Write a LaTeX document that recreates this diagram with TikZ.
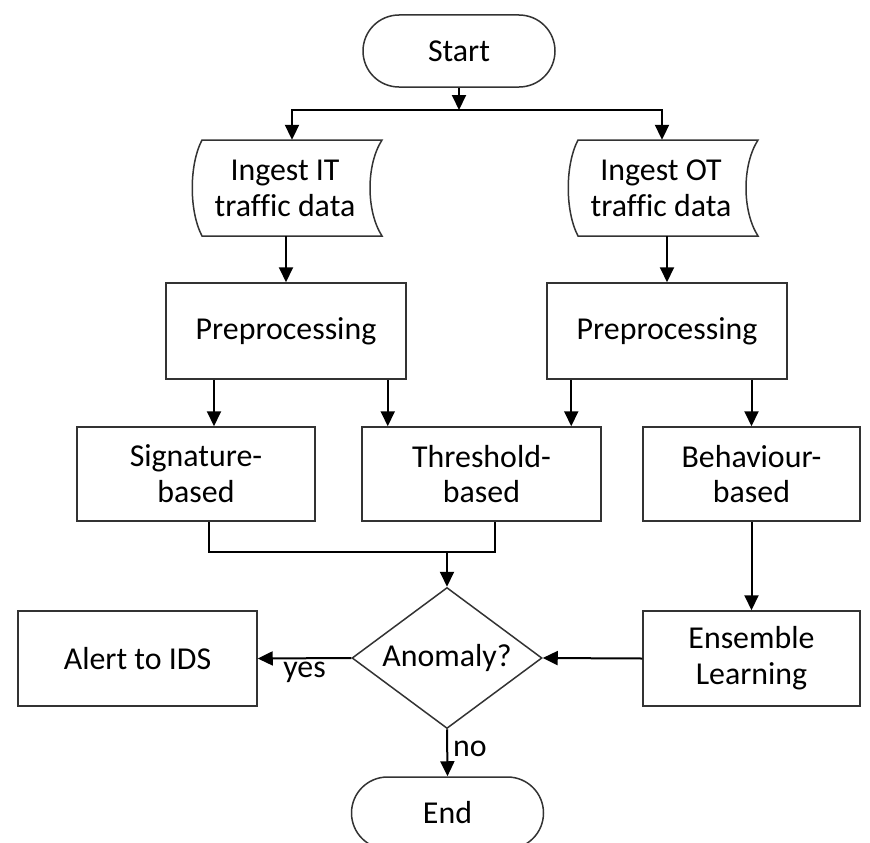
\documentclass[tikz,border=0pt]{standalone}
\usepackage{fontspec}
\setmainfont[Ligatures=NoCommon]{Carlito}
\usetikzlibrary{shapes.geometric,arrows.meta,calc}
\begin{document}
\begin{tikzpicture}[x=1bp,y=-1bp,
  txt/.style={font=\fontsize{32}{36}\selectfont, align=center, inner sep=0pt},
  box/.style={txt, draw=black!80, line width=1.5bp, rectangle},
  term/.style={box, rounded corners=36bp, minimum width=192bp, minimum height=72bp},
  proc/.style={box, minimum width=239bp, minimum height=95bp},
  side/.style={box, minimum width=217bp, minimum height=95bp},
  datanode/.style={txt, minimum width=180bp, minimum height=96bp},
  border/.style={draw=black!80, line width=1.5bp},
  decision/.style={txt, draw=black!80, line width=1.5bp, shape=diamond, aspect=1.35,
    minimum width=190bp, minimum height=141bp},
  link/.style={line width=2bp},
  flow/.style={link, -{Triangle[length=15bp,width=14bp]}},
  lbl/.style={font=\fontsize{32}{36}\selectfont, inner sep=0pt}
]
\useasboundingbox (0,0) rectangle (870,843);

% terminals
\node[term] (start) at (459,51) {Start};
\node[term] (end) at (447.5,813) {End};

% stored-data inputs (text nodes, outline drawn around them)
\node[datanode] (ingIT) at (285,188) {Ingest IT\\traffic data};
\node[datanode] (ingOT) at (661,188) {Ingest OT\\traffic data};
\foreach \n in {ingIT,ingOT}{
  \draw[border] ($(\n.center)+(-83,-48)$) .. controls +(-13,25) and +(-13,-25) .. ($(\n.center)+(-83,48)$)
    -- ($(\n.center)+(97,48)$) .. controls +(-16,-25) and +(-16,25) .. ($(\n.center)+(97,-48)$) -- cycle;
}

% processing steps
\node[proc, minimum width=240bp, minimum height=96bp] (pre1) at (286,331) {Preprocessing};
\node[proc, minimum width=240bp, minimum height=96bp] (pre2) at (667,331) {Preprocessing};
\node[proc, minimum width=238bp, minimum height=94bp] (sig) at (196,474) {Signature-\\based};
\node[proc, minimum height=94bp] (thr) at (481.5,474) {Threshold-\\based};
\node[side, minimum height=94bp] (beh) at (751.5,474) {Behaviour-\\based};
\node[decision] (dec) at (447,658) {Anomaly?};
\node[proc] (alert) at (137.5,658.5) {Alert to IDS};
\node[side] (ens) at (751.5,658.5) {Ensemble\\Learning};

% connectors
\coordinate (split) at (459,110);
\coordinate (merge) at (447,552);
\draw[flow] (start.south) -- (split);
\draw[flow] (split) -| ($(ingIT.north)+(7,0)$);
\draw[flow] (split) -| ($(ingOT.north)+(1,0)$);
\draw[flow] (ingIT.south -| pre1.north) -- (pre1.north);
\draw[flow] (ingOT.south -| pre2.north) -- (pre2.north);
\draw[flow] ([xshift=-72bp]pre1.south) -- ([xshift=-72bp]pre1.south |- sig.north);
\draw[flow] ([xshift=-19bp]pre1.south east) -- ([xshift=-19bp]pre1.south east |- thr.north);
\draw[flow] ([xshift=25bp]pre2.south west) -- ([xshift=25bp]pre2.south west |- thr.north);
\draw[flow] (beh.north |- pre2.south) -- (beh.north);
\draw[link] ([xshift=13bp]sig.south) |- (merge) -| ([xshift=13.5bp]thr.south);
\draw[flow] (merge) -- (dec.north);
\draw[flow] (beh.south) -- (ens.north);
\draw[flow] (ens.west) -- (dec.east);
\draw[flow] (dec.west) -- (alert.east);
\draw[flow] (dec.south) -- (end.north);

% branch labels
\node[lbl, anchor=north] (yes) at (304.5,662) {yes};
\node[lbl, anchor=base west] (no) at (453,756) {no};
\end{tikzpicture}
\end{document}
